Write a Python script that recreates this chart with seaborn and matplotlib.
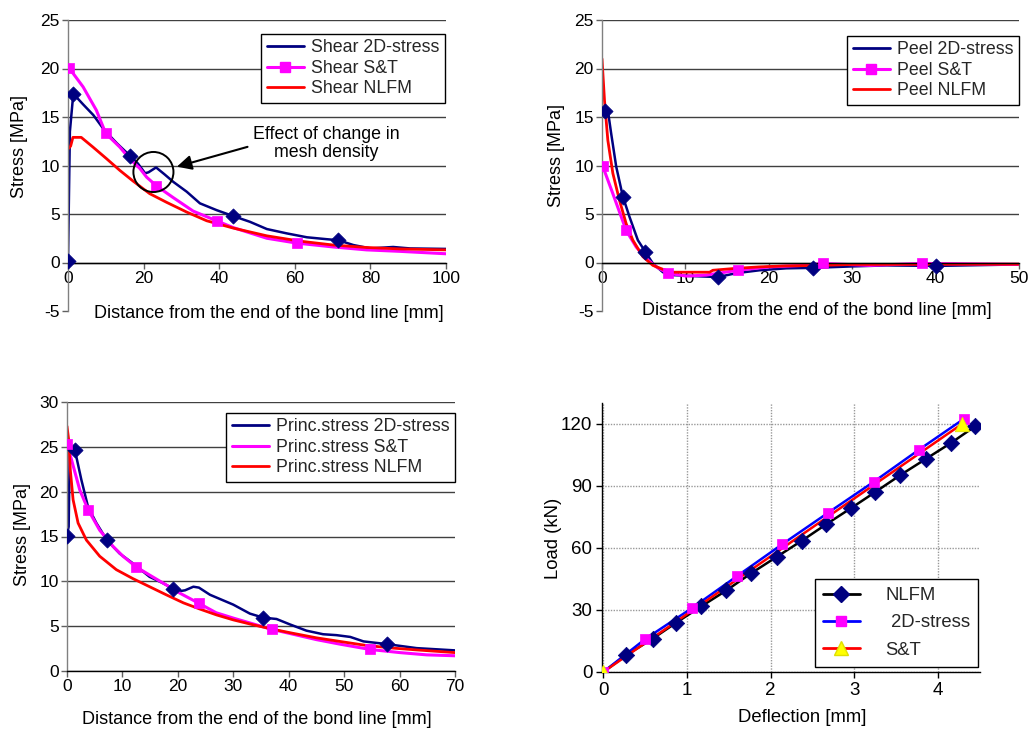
import numpy as np
import pandas as pd
import matplotlib
matplotlib.use("Agg")
import matplotlib.pyplot as plt
from matplotlib.lines import Line2D
from matplotlib.patches import Ellipse
import seaborn as sns

# ---------------- data ----------------
# Shear (top-left)
shear_2d_x = [0, 0.5, 1.4, 4, 6.7, 9.5, 12.9, 16.4, 18.5, 20.4, 21.3, 23.3, 25.5, 27.9, 31.4, 34.9, 39.3,
              43.6, 48.1, 52.6, 57.9, 63.2, 68.5, 71.5, 75.5, 80, 86, 90.5, 100]
shear_2d_y = [0.2, 13.5, 17.4, 16.3, 15.2, 13.7, 12.3, 11.0, 10.2, 9.2, 9.3, 9.8, 9.1, 8.3, 7.3, 6.1, 5.4,
              4.8, 4.2, 3.45, 3.0, 2.6, 2.4, 2.3, 1.8, 1.45, 1.6, 1.45, 1.4]
shear_2d_mk = [0, 2, 7, 17, 23]
shear_st_x = [0.2, 4, 7.5, 10, 13.7, 16.3, 19, 20.8, 23.4, 27.8, 33.1, 39.3, 43.7, 52.6, 60.5, 70.2, 79, 87.8, 100]
shear_st_y = [20.1, 18.1, 15.7, 13.3, 11.9, 10.7, 9.7, 8.8, 7.9, 6.7, 5.3, 4.3, 3.6, 2.5, 2.0, 1.6, 1.3, 1.15, 0.9]
shear_st_mk = [0, 3, 8, 11, 14]
shear_nl_x = [0, 0.7, 1.3, 3.5, 6.6, 10.2, 13.7, 17.2, 21.6, 26.1, 31.4, 36.7, 43.7, 52.6, 61.4, 70.2, 79, 87.8, 100]
shear_nl_y = [11.7, 12.0, 12.9, 12.9, 11.9, 10.7, 9.5, 8.4, 7.1, 6.2, 5.2, 4.3, 3.55, 2.75, 2.2, 1.8, 1.55, 1.4, 1.3]

# Peel (top-right)
peel_2d_x = [0.3, 0.7, 1.1, 1.7, 2.5, 3.3, 4.3, 5.2, 6.1, 7.3, 8.5, 10.9, 13.9, 16.1, 18.9, 22.1, 25.3, 30.1,
             34.1, 40.1, 50]
peel_2d_y = [15.6, 15.7, 13.3, 9.9, 6.8, 4.7, 2.3, 1.1, -0.1, -1.0, -1.3, -1.4, -1.5, -1.1, -0.8, -0.6, -0.55,
             -0.4, -0.3, -0.35, -0.2]
peel_2d_mk = [0, 4, 7, 12, 16, 19]
peel_st_x = [0.1, 1.3, 2.9, 4.1, 5.3, 6.5, 7.9, 10.1, 12.5, 16.3, 20.1, 24.1, 26.5, 32.1, 38.4, 50]
peel_st_y = [9.9, 7.1, 3.3, 1.6, 0.4, -0.45, -1.1, -1.4, -1.3, -0.8, -0.45, -0.3, -0.1, -0.3, -0.1, -0.2]
peel_st_mk = [0, 2, 6, 9, 12, 14]
peel_nl_x = [0, 0.3, 0.7, 1.3, 2.1, 2.9, 3.7, 4.9, 6.1, 7.3, 8.5, 10.9, 12.9, 13.3, 16.1, 18.9, 22.1, 26.1,
             30.1, 50]
peel_nl_y = [21.0, 16.7, 12.6, 9.2, 6.4, 4.0, 2.3, 0.6, -0.3, -0.7, -1.0, -1.0, -1.0, -0.8, -0.6, -0.45, -0.35,
             -0.3, -0.2, -0.17]

# Principal stress (bottom-left)
princ_2d_x = [0, 0.3, 0.5, 1.4, 2.6, 3.8, 5.3, 7.2, 9.5, 11.9, 14.9, 17.3, 19.1, 20.3, 21.3, 22.8, 23.8, 25.8,
              30.0, 33.0, 35.4, 37.8, 40.2, 43.2, 46.2, 48.6, 51.1, 53.5, 57.7, 60.1, 63.1, 70]
princ_2d_y = [15.1, 16.1, 24.7, 24.7, 21.3, 18.3, 16.5, 14.6, 13.1, 12.0, 10.5, 9.8, 9.2, 8.9, 9.0, 9.4, 9.3,
              8.5, 7.4, 6.4, 5.95, 5.8, 5.2, 4.5, 4.1, 4.0, 3.8, 3.3, 3.0, 2.8, 2.55, 2.3]
princ_2d_mk = [0, 3, 7, 12, 20, 28]
princ_st_x = [0, 0.8, 2.3, 3.8, 5.9, 8.3, 10.1, 12.5, 14.9, 17.9, 20.3, 23.8, 26.9, 30.0, 33.6, 36.9, 40.8, 45,
              49.2, 54.7, 60.1, 64.9, 70]
princ_st_y = [25.3, 23.6, 20.2, 18.0, 15.7, 13.9, 12.8, 11.6, 10.7, 9.6, 8.7, 7.55, 6.5, 5.9, 5.25, 4.65, 4.1,
              3.5, 3.0, 2.4, 2.05, 1.8, 1.7]
princ_st_mk = [0, 3, 7, 11, 15, 19]
princ_nl_x = [0, 0.3, 0.6, 1.1, 2.0, 3.5, 5.9, 8.9, 11.9, 14.9, 17.9, 21, 24, 27, 30, 33.6, 37.2, 40.8, 45,
              49.2, 54, 58.9, 63.1, 70]
princ_nl_y = [27.3, 25.8, 22.4, 19.1, 16.5, 14.6, 12.8, 11.3, 10.3, 9.4, 8.5, 7.6, 6.9, 6.25, 5.7, 5.15, 4.65,
              4.2, 3.7, 3.3, 2.85, 2.55, 2.35, 2.05]

# Load - deflection (bottom-right)
ld_nlfm_x = [0, 0.27, 0.59, 0.87, 1.17, 1.47, 1.77, 2.07, 2.37, 2.66, 2.96, 3.25, 3.55, 3.85, 4.15, 4.44]
ld_nlfm_y = [0, 8.0, 16.1, 23.8, 31.7, 39.4, 47.8, 55.6, 63.4, 71.3, 79.2, 87.0, 95.2, 102.9, 110.6, 118.7]
ld_2d_x = [0, 0.50, 1.06, 1.60, 2.14, 2.68, 3.23, 3.77, 4.31]
ld_2d_y = [0, 15.9, 30.9, 46.4, 61.8, 76.8, 91.9, 107.4, 122.4]
ld_st_x = [0, 4.29]
ld_st_y = [0, 120.0]

NAVY, MAG, RED = "#000080", "#FF00FF", "#FF0000"

# ---------------- style ----------------
sns.set_theme(style="white")
plt.rcParams["font.family"] = ["Liberation Sans", "DejaVu Sans"]
plt.rcParams["axes.unicode_minus"] = False

fig = plt.figure(figsize=(10.31, 7.29), dpi=100)


def line(ax, x, y, color, lw=1.8, z=2):
    df = pd.DataFrame({"x": x, "y": y})
    sns.lineplot(data=df, x="x", y="y", color=color, lw=lw, ax=ax, sort=False,
                 estimator=None, legend=False, zorder=z)


def marks(ax, x, y, idx, marker, color, s, ec=None, z=4):
    df = pd.DataFrame({"x": np.asarray(x)[idx], "y": np.asarray(y)[idx]})
    sns.scatterplot(data=df, x="x", y="y", marker=marker, color=color, s=s,
                    edgecolor=ec if ec else color, linewidth=0.5, ax=ax, zorder=z, legend=False)


def stress_axes(ax, xlim, xticks, ylim, yticks):
    ax.set_xlim(*xlim)
    ax.set_ylim(*ylim)
    ax.set_xticks(xticks)
    ax.set_yticks(yticks)
    for s in ["top", "right"]:
        ax.spines[s].set_visible(False)
    ax.spines["left"].set_color("#808080")
    ax.spines["left"].set_linewidth(1.0)
    ax.spines["bottom"].set_position(("data", 0))
    ax.spines["bottom"].set_color("black")
    ax.spines["bottom"].set_linewidth(1.0)
    ax.tick_params(axis="both", which="major", direction="out", length=4, width=1,
                   color="#606060", labelsize=12.5, labelcolor="black", pad=2, bottom=True, left=True)
    ax.yaxis.grid(True, color="#404040", lw=1.0)
    ax.set_axisbelow(True)
    ax.set_xlabel("")
    ax.set_ylabel("")


def style_labels(ax, xl, yl, xpos, ypos, size=13):
    ax.set_xlabel(xl, fontsize=size, color="black")
    ax.set_ylabel(yl, fontsize=size, color="black")
    ax.xaxis.label.set_va("center")
    ax.yaxis.label.set_va("center")
    ax.xaxis.set_label_coords(*xpos)
    ax.yaxis.set_label_coords(*ypos)


def legend(ax, handles, labels, loc, anchor, **kw):
    opts = dict(fontsize=12.8, frameon=True, fancybox=False, shadow=False, borderaxespad=0,
                handlelength=2.1, handletextpad=0.4, labelspacing=0.2, borderpad=0.3)
    opts.update(kw)
    lg = ax.legend(handles, labels, loc=loc, bbox_to_anchor=anchor, **opts)
    lg.get_frame().set_edgecolor("black")
    lg.get_frame().set_linewidth(1.0)
    lg.get_frame().set_facecolor("white")
    lg.get_frame().set_alpha(1)
    lg.set_zorder(10)
    return lg


# ---------------- panel 1: shear ----------------
ax1 = fig.add_axes([68 / 1031, 1 - 311 / 729, 378 / 1031, 291 / 729])
line(ax1, shear_2d_x, shear_2d_y, NAVY)
line(ax1, shear_st_x, shear_st_y, MAG, lw=2.2)
line(ax1, shear_nl_x, shear_nl_y, RED, lw=2.0)
marks(ax1, shear_2d_x, shear_2d_y, shear_2d_mk, "D", NAVY, 60)
marks(ax1, shear_st_x, shear_st_y, shear_st_mk, "s", MAG, 55)
stress_axes(ax1, (0, 100), range(0, 101, 20), (-5, 25), range(-5, 26, 5))
ax1.yaxis.get_major_ticks()[0].gridline.set_visible(False)
style_labels(ax1, "Distance from the end of the bond line [mm]", "Stress [MPa]", (0.53, -0.007), (-0.127, 0.567))
legend(ax1,
       [Line2D([], [], color=NAVY, lw=2), Line2D([], [], color=MAG, lw=2.2, marker="s", ms=7),
        Line2D([], [], color=RED, lw=2)],
       ["Shear 2D-stress", "Shear S&T", "Shear NLFM"], "upper right", (0.997, 0.952))
# annotation
ax1.add_patch(Ellipse((22.6, 9.33), 10.6, 4.13, fill=False, ec="black", lw=1.4, zorder=6))
ax1.annotate("", xy=(28.1, 9.8), xytext=(48.2, 12.0),
             arrowprops=dict(arrowstyle="-|>", color="black", lw=1.5, mutation_scale=22), zorder=6)
ax1.text(68.3, 12.3, "Effect of change in\nmesh density", ha="center", va="center",
         fontsize=12.8, linespacing=1.1, color="black", zorder=6)

# ---------------- panel 2: peel ----------------
ax2 = fig.add_axes([602 / 1031, 1 - 311 / 729, 417 / 1031, 291 / 729])
line(ax2, peel_2d_x, peel_2d_y, NAVY)
line(ax2, peel_st_x, peel_st_y, MAG, lw=2.2)
line(ax2, peel_nl_x, peel_nl_y, RED, lw=2.0)
marks(ax2, peel_2d_x, peel_2d_y, peel_2d_mk, "D", NAVY, 60)
marks(ax2, peel_st_x, peel_st_y, peel_st_mk, "s", MAG, 55)
stress_axes(ax2, (0, 50), range(0, 51, 10), (-5, 25), range(-5, 26, 5))
ax2.yaxis.get_major_ticks()[0].gridline.set_visible(False)
style_labels(ax2, "Distance from the end of the bond line [mm]", "Stress [MPa]", (0.515, 0.003), (-0.108, 0.536))
legend(ax2,
       [Line2D([], [], color=NAVY, lw=2), Line2D([], [], color=MAG, lw=2.2, marker="s", ms=7),
        Line2D([], [], color=RED, lw=2)],
       ["Peel 2D-stress", "Peel S&T", "Peel NLFM"], "upper right", (1.0, 0.945))

# ---------------- panel 3: principal stress ----------------
ax3 = fig.add_axes([67 / 1031, 1 - 671 / 729, 388 / 1031, 269 / 729])
line(ax3, princ_2d_x, princ_2d_y, NAVY)
line(ax3, princ_st_x, princ_st_y, MAG, lw=2.2)
line(ax3, princ_nl_x, princ_nl_y, RED, lw=2.0)
marks(ax3, princ_2d_x, princ_2d_y, princ_2d_mk, "D", NAVY, 60)
marks(ax3, princ_st_x, princ_st_y, princ_st_mk, "s", MAG, 55)
stress_axes(ax3, (0, 70), range(0, 71, 10), (0, 30), range(0, 31, 5))
style_labels(ax3, "Distance from the end of the bond line [mm]", "Stress [MPa]", (0.49, -0.182), (-0.115, 0.506))
legend(ax3,
       [Line2D([], [], color=NAVY, lw=2), Line2D([], [], color=MAG, lw=2.2),
        Line2D([], [], color=RED, lw=2)],
       ["Princ.stress 2D-stress", "Princ.stress S&T", "Princ.stress NLFM"], "upper right", (1.0, 0.959))

# ---------------- panel 4: load-deflection ----------------
ax4 = fig.add_axes([602 / 1031, 1 - 672 / 729, 378 / 1031, 269 / 729])
line(ax4, ld_nlfm_x, ld_nlfm_y, "black", lw=1.8)
line(ax4, ld_2d_x, ld_2d_y, "#0000FF", lw=1.8)
line(ax4, ld_st_x, ld_st_y, RED, lw=1.8, z=3)
marks(ax4, ld_nlfm_x, ld_nlfm_y, list(range(1, len(ld_nlfm_x))), "D", NAVY, 70)
marks(ax4, ld_2d_x, ld_2d_y, list(range(len(ld_2d_x))), "s", MAG, 60)
marks(ax4, ld_st_x, ld_st_y, list(range(len(ld_st_x))), "^", "#FFFF00", 110, ec="#E0E000")
ax4.set_xlim(-0.015, 4.5)
ax4.set_ylim(0, 130)
ax4.set_xticks(range(0, 5))
ax4.set_yticks(range(0, 121, 30))
for s in ["top", "right"]:
    ax4.spines[s].set_visible(False)
for s in ["left", "bottom"]:
    ax4.spines[s].set_color("black")
    ax4.spines[s].set_linewidth(1.0)
ax4.tick_params(axis="both", direction="out", length=4, width=1, color="black", labelsize=13.5,
                labelcolor="black", pad=3, bottom=True, left=True)
ax4.grid(True, color="#999999", lw=1.0, ls=(0, (1, 1)))
ax4.set_axisbelow(True)
style_labels(ax4, "Deflection [mm]", "Load (kN)", (0.529, -0.171), (-0.127, 0.498), size=13.3)
legend(ax4,
       [Line2D([], [], color="black", lw=2, marker="D", ms=8, mfc=NAVY, mec=NAVY),
        Line2D([], [], color="#0000FF", lw=2, marker="s", ms=7, mfc=MAG, mec=MAG),
        Line2D([], [], color=RED, lw=2, marker="^", ms=10, mfc="#FFFF00", mec="#E0E000")],
       ["NLFM", " 2D-stress", "S&T"], "lower right", (0.995, 0.019),
       fontsize=13.3, handlelength=2.0, handletextpad=1.4, labelspacing=0.55, borderpad=0.45)

fig.savefig("out.png", dpi=100, facecolor="white")
